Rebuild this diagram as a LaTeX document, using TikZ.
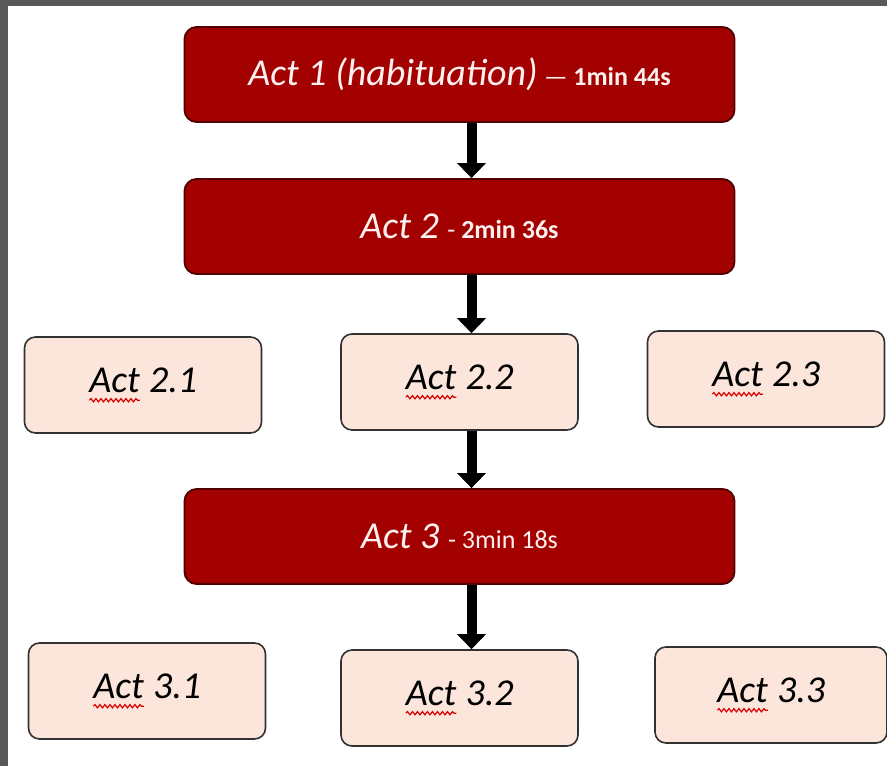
\documentclass[tikz,border=0pt]{standalone}
\usepackage{fontspec}
\setmainfont{Carlito}
\usetikzlibrary{shapes,arrows.meta,positioning,calc,decorations.pathmorphing}

\definecolor{actred}{RGB}{163,0,0}
\definecolor{actborder}{RGB}{80,0,0}
\definecolor{subfill}{RGB}{252,230,219}
\definecolor{subborder}{RGB}{50,50,50}
\definecolor{framegray}{RGB}{89,89,89}
\definecolor{acttext}{RGB}{255,240,240}

% big italic title and the smaller time part
\newcommand{\acttitle}[1]{{\fontsize{38}{42}\selectfont\itshape #1}}
\newcommand{\acttime}[1]{{\fontsize{26}{29}\selectfont #1}}
% red wavy spelling mark under a word
\newcommand{\spellmark}[1]{\tikz[baseline=(sp.base)]{%
  \node[inner sep=0pt,outer sep=0pt,minimum width=0pt,minimum height=0pt,
    draw=none,fill=none] (sp) {#1};
  \draw[-,line width=1.2pt,sharp corners,red!85!black,decorate,
    decoration={snake,amplitude=1.6pt,segment length=5pt}]
    ([yshift=-8pt]sp.base west) -- ([yshift=-8pt]sp.base east);}}

\begin{document}
\begin{tikzpicture}[thick,
  main act/.style={rectangle,rounded corners=12pt,draw=actborder,line width=1.8pt,
    fill=actred,text=acttext,minimum width=550pt,minimum height=95pt},
  sub act/.style={rectangle,rounded corners=11pt,draw=subborder,line width=1.6pt,
    fill=subfill,text=black,minimum width=237pt,minimum height=96pt},
  flow/.style={line width=10pt,-{Triangle[width=28pt,length=15pt]}}]

  \useasboundingbox (0,0) rectangle (887pt,-766pt);
  \fill[framegray] (0,0) rectangle (887pt,-6pt);
  \fill[framegray] (0,0) rectangle (8pt,-766pt);

  \node[main act] (act1) at (459.5pt,-74.5pt)
    {\acttitle{Act 1 (habituation)\,}\acttime{--- \bfseries 1min 44s}};
  \node[main act] (act2) [node distance=152pt,below of=act1]
    {\acttitle{Act 2 }\acttime{- \bfseries 2min 36s}};
  \node[sub act] (act22) [node distance=155.5pt,below of=act2]
    {\acttitle{\spellmark{Act} 2.2}};
  \node[sub act] (act21) [node distance=316.5pt,left of=act22,yshift=-3pt]
    {\acttitle{\spellmark{Act} 2.1}};
  \node[sub act] (act23) [node distance=306.5pt,right of=act22,yshift=3pt]
    {\acttitle{\spellmark{Act} 2.3}};
  \node[main act] (act3) [node distance=154.5pt,below of=act22]
    {\acttitle{Act 3 }\acttime{- 3min 18s}};
  \node[sub act] (act32) [node distance=161.5pt,below of=act3]
    {\acttitle{\spellmark{Act} 3.2}};
  \node[sub act] (act31) [node distance=312.5pt,left of=act32,yshift=7pt]
    {\acttitle{\spellmark{Act} 3.1}};
  \node[sub act,minimum width=232pt] (act33) [node distance=311.5pt,right of=act32,yshift=3pt]
    {\acttitle{\spellmark{Act} 3.3}};

  \draw[flow] ([xshift=12pt]act1.south) -- ([xshift=12pt]act2.north);
  \draw[flow] ([xshift=12pt]act2.south) -- ([xshift=12pt]act22.north);
  \draw[flow] ([xshift=12pt]act22.south) -- ([xshift=12pt]act3.north);
  \draw[flow] ([xshift=12pt]act3.south) -- ([xshift=12pt]act32.north);
\end{tikzpicture}
\end{document}
